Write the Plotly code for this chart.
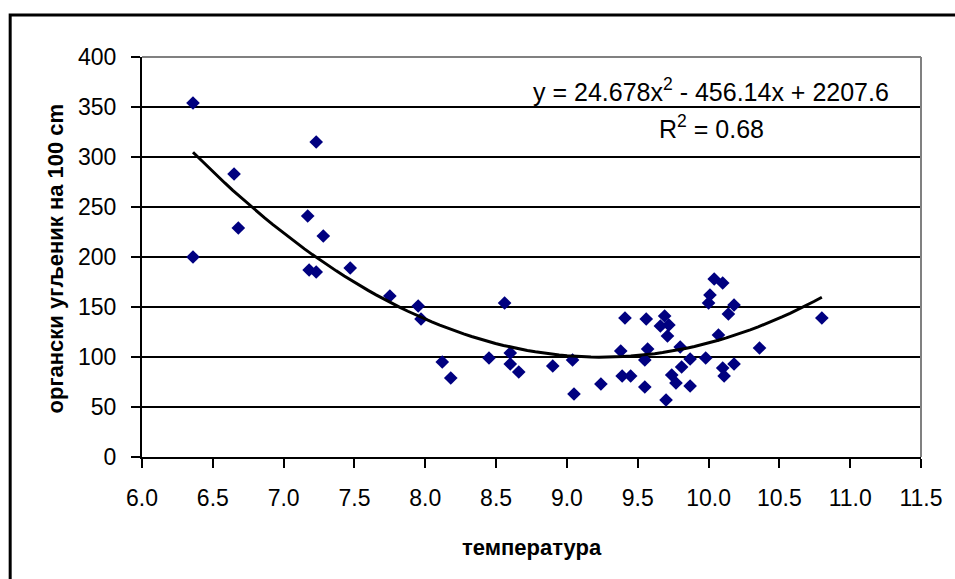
import numpy as np
import plotly.graph_objects as go

# Measurements: temperature vs. organic carbon per 100 cm
temperature = [
    6.36, 6.36, 6.65, 6.68, 7.23, 7.17, 7.28, 7.18, 7.23, 7.47,
    7.75, 7.95, 7.97, 8.56, 8.12, 8.18, 8.45, 8.60, 8.60, 8.66,
    8.90, 9.04, 9.05, 9.24, 9.41, 9.38, 9.39, 9.45, 9.56, 9.57,
    9.55, 9.55, 9.69, 9.66, 9.72, 9.71, 9.70, 9.80, 9.74, 9.81,
    9.77, 9.87, 9.87, 9.98, 10.00, 10.01, 10.04, 10.10, 10.07, 10.10,
    10.11, 10.18, 10.14, 10.18, 10.36, 10.80,
]
organic_carbon = [
    354, 200, 283, 229, 315, 241, 221, 187, 185, 189,
    161, 151, 138, 154, 95, 79, 99, 104, 93, 85,
    91, 97, 63, 73, 139, 106, 81, 81, 138, 108,
    97, 70, 141, 131, 132, 121, 57, 110, 82, 90,
    74, 98, 71, 99, 154, 162, 178, 174, 122, 89,
    81, 152, 143, 93, 109, 139,
]

# Quadratic trendline coefficients and fit quality
coef_a, coef_b, coef_c = 24.678, -456.14, 2207.6
r_squared = 0.68

x_ticks = [6.0, 6.5, 7.0, 7.5, 8.0, 8.5, 9.0, 9.5, 10.0, 10.5, 11.0, 11.5]
y_ticks = [0, 50, 100, 150, 200, 250, 300, 350, 400]

FONT = "Arial, Liberation Sans, sans-serif"

x_fit = np.linspace(min(temperature), max(temperature), 80)
y_fit = coef_a * x_fit**2 + coef_b * x_fit + coef_c

fig = go.Figure()
fig.add_trace(go.Scatter(
    x=temperature, y=organic_carbon, mode="markers",
    marker=dict(symbol="diamond", size=10.5, color="#000080", line=dict(width=0)),
    showlegend=False, hoverinfo="x+y",
))
fig.add_trace(go.Scatter(
    x=x_fit, y=y_fit, mode="lines",
    line=dict(color="black", width=3),
    showlegend=False, hoverinfo="skip",
))

L, R, T, B = 142, 30, 57, 122
W, H = 955, 579
pw, ph = W - L - R, H - T - B


def px_x(p):
    return (p - L) / pw


def px_y(p):
    return (H - B - p) / ph


fig.update_layout(
    width=W, height=H,
    margin=dict(l=L, r=R, t=T, b=B, pad=0),
    paper_bgcolor="white", plot_bgcolor="white",
    font=dict(family=FONT, color="black"),
    xaxis=dict(
        range=[6.0, 11.5], tickvals=x_ticks,
        ticktext=[f"{v:.1f}" for v in x_ticks],
        showgrid=False, zeroline=False,
        showline=True, linecolor="black", linewidth=2,
        ticks="outside", ticklen=9, tickwidth=1.5, tickcolor="black",
        tickfont=dict(size=23, family=FONT), ticklabelstandoff=10,
    ),
    yaxis=dict(
        range=[0, 400], tickvals=y_ticks,
        showgrid=True, gridcolor="black", gridwidth=1.5,
        zeroline=False,
        showline=True, linecolor="black", linewidth=2,
        ticks="outside", ticklen=9, tickwidth=1.5, tickcolor="black",
        tickfont=dict(size=23, family=FONT), ticklabelstandoff=10,
    ),
    shapes=[
        # plot-area frame (top and right) in gray
        dict(type="line", xref="paper", yref="paper", x0=0, x1=1, y0=1, y1=1,
             line=dict(color="#808080", width=2), layer="above"),
        dict(type="line", xref="paper", yref="paper", x0=1, x1=1, y0=0, y1=1,
             line=dict(color="#808080", width=2), layer="above"),
        # outer chart border
        dict(type="rect", xref="paper", yref="paper",
             x0=px_x(9.5), x1=px_x(970), y0=px_y(15), y1=px_y(600),
             line=dict(color="black", width=3), layer="above"),
    ],
    annotations=[
        dict(xref="paper", yref="paper", x=px_x(714), y=px_y(90),
             text=f"y = {coef_a}x<sup>2</sup> - {abs(coef_b)}x + {coef_c}",
             showarrow=False, font=dict(size=25, family=FONT),
             xanchor="center", yanchor="middle"),
        dict(xref="paper", yref="paper", x=px_x(714), y=px_y(127),
             text=f"R<sup>2</sup> = {r_squared}",
             showarrow=False, font=dict(size=25, family=FONT),
             xanchor="center", yanchor="middle"),
        dict(xref="paper", yref="paper", x=px_x(55), y=px_y(258),
             text="<b>органски угљеник на 100 cm</b>", textangle=-90,
             showarrow=False, font=dict(size=22, family=FONT),
             xanchor="center", yanchor="middle"),
        dict(xref="paper", yref="paper", x=px_x(534), y=px_y(547),
             text="<b>температура</b>",
             showarrow=False, font=dict(size=22, family=FONT),
             xanchor="center", yanchor="middle"),
    ],
)

fig.write_html("out.html")
